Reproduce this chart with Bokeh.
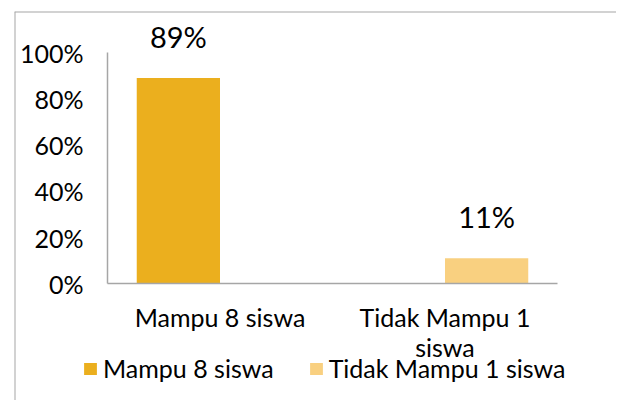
from bokeh.plotting import figure
from bokeh.models import (ColumnDataSource, Range1d, NumeralTickFormatter, FixedTicker,
                          SingleIntervalTicker, LabelSet, Legend, LegendItem, Span)
from bokeh.core.properties import value
from bokeh.embed import file_html
from bokeh.resources import INLINE

# ---- data ----
categories = ["Mampu 8 siswa", "Tidak Mampu 1 siswa"]
category_label_line1 = ["Mampu 8 siswa", "Tidak Mampu 1"]
category_label_line2 = ["", "siswa"]
series_names = ["Mampu 8 siswa", "Tidak Mampu 1 siswa"]
mampu = [0.89, None]
tidak_mampu = [None, 0.11]
series_values = [mampu, tidak_mampu]
series_colors = ["#EBAF1E", "#F9D080"]
series_offsets = [-0.185, 0.185]
y_ticks_interval = 0.2

FONT = "Lato"
GRAY = "#A6A6A6"

X0, X1 = -0.9133, 1.7622
Y0, Y1 = -0.5045, 1.1773

# layout: frame fills the canvas; axes are fixed inside it
p = figure(x_range=Range1d(X0, X1), y_range=Range1d(Y0, Y1),
           width=616, height=400, output_backend="svg", toolbar_location=None,
           min_border_left=14, min_border_top=11, min_border_right=0, min_border_bottom=0)
p.title.visible = False
p.outline_line_color = None
p.xgrid.grid_line_color = None
p.ygrid.grid_line_color = None
p.background_fill_color = "white"
p.border_fill_color = "white"

# outer chart-area border (top and left, the rest is cropped in the reference)
p.add_layout(Span(location=X0, dimension="height", line_color=GRAY, line_width=2))
p.add_layout(Span(location=Y1, dimension="width", line_color=GRAY, line_width=2))

idx = list(range(len(categories)))
renderers = []
for name, vals, color, off in zip(series_names, series_values, series_colors, series_offsets):
    xs = [i + off for i, v in zip(idx, vals) if v is not None]
    ys = [v for v in vals if v is not None]
    src = ColumnDataSource(dict(x=xs, top=ys, lab=[f"{round(v*100)}%" for v in ys]))
    r = p.vbar(x="x", top="top", width=0.37, source=src, fill_color=color, line_color=None)
    renderers.append((name, r))
    p.add_layout(LabelSet(x="x", y="top", text="lab", source=src,
                          text_align="center", text_baseline="alphabetic", y_offset=30,
                          text_font=value(FONT), text_font_size="29px", text_color="#000000"))

# category labels (two lines, wrapped as in the reference)
cat_src = ColumnDataSource(dict(x=idx, y=[0] * len(idx),
                                l1=category_label_line1, l2=category_label_line2))
p.add_layout(LabelSet(x="x", y="y", text="l1", source=cat_src, text_align="center",
                      text_baseline="alphabetic", y_offset=-43,
                      text_font=value(FONT), text_font_size="25px", text_color="#000000"))
p.add_layout(LabelSet(x="x", y="y", text="l2", source=cat_src, text_align="center",
                      text_baseline="alphabetic", y_offset=-73,
                      text_font=value(FONT), text_font_size="25px", text_color="#000000"))

# y axis
ya = p.yaxis[0]
ya.fixed_location = -0.5
ya.bounds = (0, 1)
ya.ticker = SingleIntervalTicker(interval=y_ticks_interval)
ya.formatter = NumeralTickFormatter(format="0%")
ya.major_tick_line_color = None
ya.minor_tick_line_color = None
ya.major_tick_out = 0
ya.major_tick_in = 0
ya.axis_line_color = GRAY
ya.axis_line_width = 1.5
ya.major_label_standoff = 20
ya.major_label_text_font = FONT
ya.major_label_text_font_size = "25px"
ya.major_label_text_color = "#000000"

# x axis (line only; labels drawn above)
xa = p.xaxis[0]
xa.fixed_location = 0
xa.bounds = (-0.5, len(categories) - 0.5)
xa.ticker = FixedTicker(ticks=[])
xa.major_tick_line_color = None
xa.minor_tick_line_color = None
xa.axis_line_color = GRAY
xa.axis_line_width = 1.5

legend = Legend(items=[LegendItem(label=n, renderers=[r]) for n, r in renderers],
                orientation="horizontal", location=(68, 17),
                glyph_width=16, glyph_height=15, label_height=15, label_standoff=5, spacing=34,
                padding=0, margin=0, border_line_color=None, background_fill_alpha=0,
                label_text_font=FONT, label_text_font_size="25px", label_text_color="#000000")
p.add_layout(legend, "center")

open("out.html", "w").write(file_html(p, INLINE))
